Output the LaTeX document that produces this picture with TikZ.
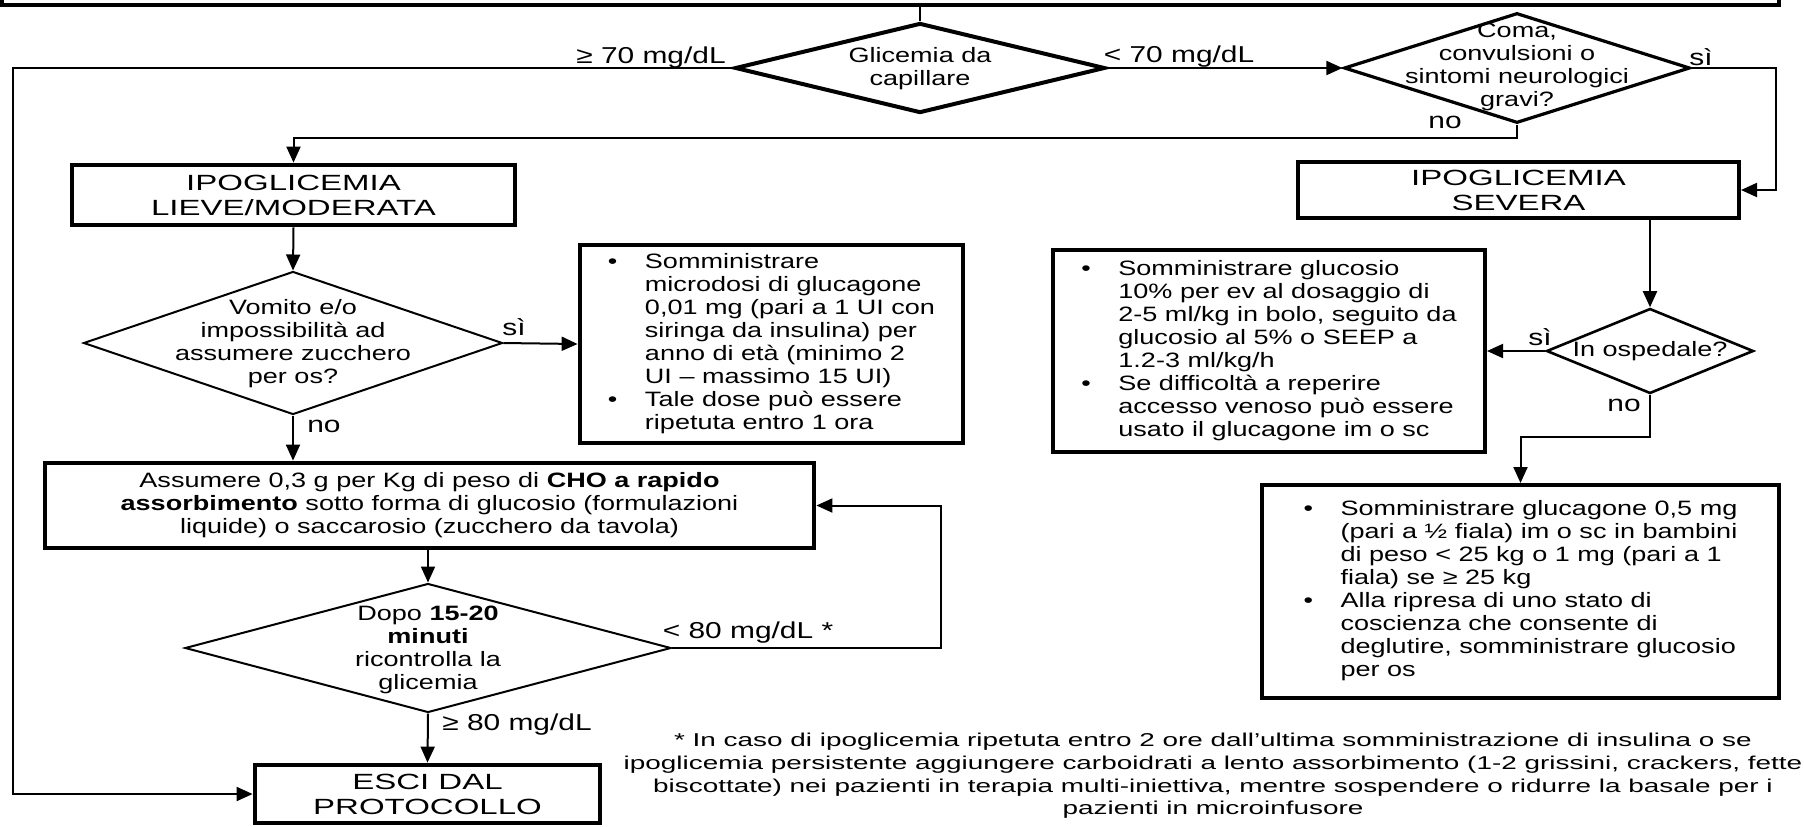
\documentclass[tikz,border=0pt]{standalone}
\usepackage{fontspec}
\setmainfont[FakeStretch=1.3]{Liberation Sans}
\newfontfamily\headfont[FakeStretch=1.5]{Liberation Sans}
\usetikzlibrary{arrows.meta,shapes.geometric}

\begin{document}
\begin{tikzpicture}[x=0.5pt,y=-0.5pt,
  box/.style={rectangle,draw,line width=2.4pt,inner sep=0pt,align=center,
              font=\fontsize{10.4}{11.5}\selectfont},
  head/.style={box,font=\headfont\fontsize{11}{12.5}\selectfont},
  dec/.style={diamond,draw,line width=1pt,inner sep=0pt},
  dtxt/.style={align=center,inner sep=0pt,font=\fontsize{10.4}{11.5}\selectfont},
  lbl/.style={inner sep=0pt,font=\fontsize{11.5}{13}\selectfont},
  note/.style={align=center,inner sep=0pt,font=\headfont\fontsize{9.3}{11.35}\selectfont},
  arrow/.style={-{Triangle[length=8pt,width=7pt]},line width=1pt},
  link/.style={line width=1pt}
]
  \useasboundingbox (0,0) rectangle (1804,826);
  \clip (0,0) rectangle (1804,826);

  \node[box,line width=1.6pt,minimum width=888.5pt,minimum height=45pt] (prev) at (890.5,-40) {};

  \node[dec,line width=2pt,minimum width=185pt,minimum height=45pt] (glic) at (920,68) {};
  \node[dtxt] (glict) at (920,69) {Glicemia da\\capillare};
  \node[dec,line width=1.6pt,minimum width=173pt,minimum height=55pt] (coma) at (1517,68) {};
  \node[dtxt] (comat) at (1517,67) {Coma,\\convulsioni o\\sintomi neurologici\\gravi?};

  \node[head,minimum width=221.5pt,minimum height=30pt] (lieve) at (293.5,195) {IPOGLICEMIA\\LIEVE/MODERATA};
  \node[head,line width=2pt,minimum width=220.5pt,minimum height=28pt] (severa) at (1518.5,190) {IPOGLICEMIA\\SEVERA};

  \node[dec,minimum width=209.5pt,minimum height=71.5pt] (vomito) at (293,343) {};
  \node[dtxt] (vomitot) at (293,344) {Vomito e/o\\impossibilità ad\\assumere zucchero\\per os?};
  \node[box,minimum width=191.5pt,minimum height=99pt] (micro) at (771.5,344) {
    \begin{tabular}{@{}p{18.5pt}@{}l@{}}
      \textbullet & Somministrare\\
      & microdosi di glucagone\\
      & 0,01 mg (pari a 1 UI con\\
      & siringa da insulina) per\\
      & anno di età (minimo 2\\
      & UI – massimo 15 UI)\\
      \textbullet & Tale dose può essere\\
      & ripetuta entro 1 ora
    \end{tabular}};

  \node[dec,line width=1.3pt,minimum width=103.5pt,minimum height=42.5pt] (osped) at (1650,351) {};
  \node[dtxt] (ospedt) at (1650,351) {In ospedale?};
  \node[box,line width=2pt,minimum width=216pt,minimum height=101pt] (glucosio) at (1269,351) {
    \begin{tabular}{@{}p{18.5pt}@{}l@{}}
      \textbullet & Somministrare glucosio\\
      & 10\% per ev al dosaggio di\\
      & 2-5 ml/kg in bolo, seguito da\\
      & glucosio al 5\% o SEEP a\\
      & 1.2-3 ml/kg/h\\
      \textbullet & Se difficoltà a reperire\\
      & accesso venoso può essere\\
      & usato il glucagone im o sc
    \end{tabular}};
  \node[box,line width=2pt,minimum width=258.5pt,minimum height=106.5pt] (glucag) at (1520.5,591.5) {
    \begin{tabular}{@{}p{18.5pt}@{}l@{}}
      \textbullet & Somministrare glucagone 0,5 mg\\
      & (pari a ½ fiala) im o sc in bambini\\
      & di peso < 25 kg o 1 mg (pari a 1\\
      & fiala) se ≥ 25 kg\\
      \textbullet & Alla ripresa di uno stato di\\
      & coscienza che consente di\\
      & deglutire, somministrare glucosio\\
      & per os
    \end{tabular}};

  \node[box,minimum width=384.5pt,minimum height=42.5pt] (assum) at (429.5,505.5) {Assumere 0,3 g per Kg di peso di \textbf{CHO a rapido}\\\textbf{assorbimento} sotto forma di glucosio (formulazioni\\liquide) o saccarosio (zucchero da tavola)};
  \node[dec,minimum width=243pt,minimum height=64.5pt] (dopo) at (428,648) {};
  \node[dtxt] (dopot) at (428,650) {Dopo \textbf{15-20}\\\textbf{minuti}\\ricontrolla la\\glicemia};
  \node[head,minimum width=172.5pt,minimum height=29pt] (esci) at (427.5,794) {ESCI DAL\\PROTOCOLLO};

  \node[note] (nota) at (1213,776) {* In caso di ipoglicemia ripetuta entro 2 ore dall’ultima somministrazione di insulina o se\\
    ipoglicemia persistente aggiungere carboidrati a lento assorbimento (1-2 grissini, crackers, fette\\
    biscottate) nei pazienti in terapia multi-iniettiva, mentre sospendere o ridurre la basale per i\\
    pazienti in microinfusore};

  \coordinate (lft) at (13,68);
  \coordinate (sibend) at (1776,68);
  \coordinate (nobend) at (1517,138);
  \coordinate (osbend) at (1650,437);
  \coordinate (loop) at (941,648);

  \draw[link] (glic.north |- prev.south) -- (glic.north);
  \draw[arrow] (glic.west) -- (lft) |- (esci.west);
  \draw[arrow] (glic.east) -- (coma.west);
  \draw[arrow] (coma.east) -- (sibend) |- (severa.east);
  \draw[arrow] (coma.south) -- (nobend) -| (lieve.north);
  \draw[arrow] (severa.south -| osped.north) -- (osped.north);
  \draw[arrow] (osped.west) -- (glucosio.east);
  \draw[arrow] (osped.south) -- (osbend) -| (glucag.north);
  \draw[arrow] (lieve.south) -- (vomito.north);
  \draw[arrow] (vomito.east) -- (micro.west);
  \draw[arrow] (vomito.south) -- (vomito.south |- assum.north);
  \draw[arrow] (assum.south -| dopo.north) -- (dopo.north);
  \draw[arrow] (dopo.east) -- (loop) |- (assum.east);
  \draw[arrow] (dopo.south) -- (esci.north);

  \node[lbl] (l70a) at (651,58) {≥ 70 mg/dL};
  \node[lbl] (l70b) at (1179,57) {< 70 mg/dL};
  \node[lbl] (lsi1) at (1701,57) {sì};
  \node[lbl] (lno1) at (1445,122) {no};
  \node[lbl] (lsi2) at (514,327) {sì};
  \node[lbl] (lno2) at (324,426) {no};
  \node[lbl] (lsi3) at (1540,337) {sì};
  \node[lbl] (lno3) at (1624,405) {no};
  \node[lbl] (l80a) at (748,633) {< 80 mg/dL *};
  \node[lbl] (l80b) at (517,725) {≥ 80 mg/dL};
\end{tikzpicture}
\end{document}
